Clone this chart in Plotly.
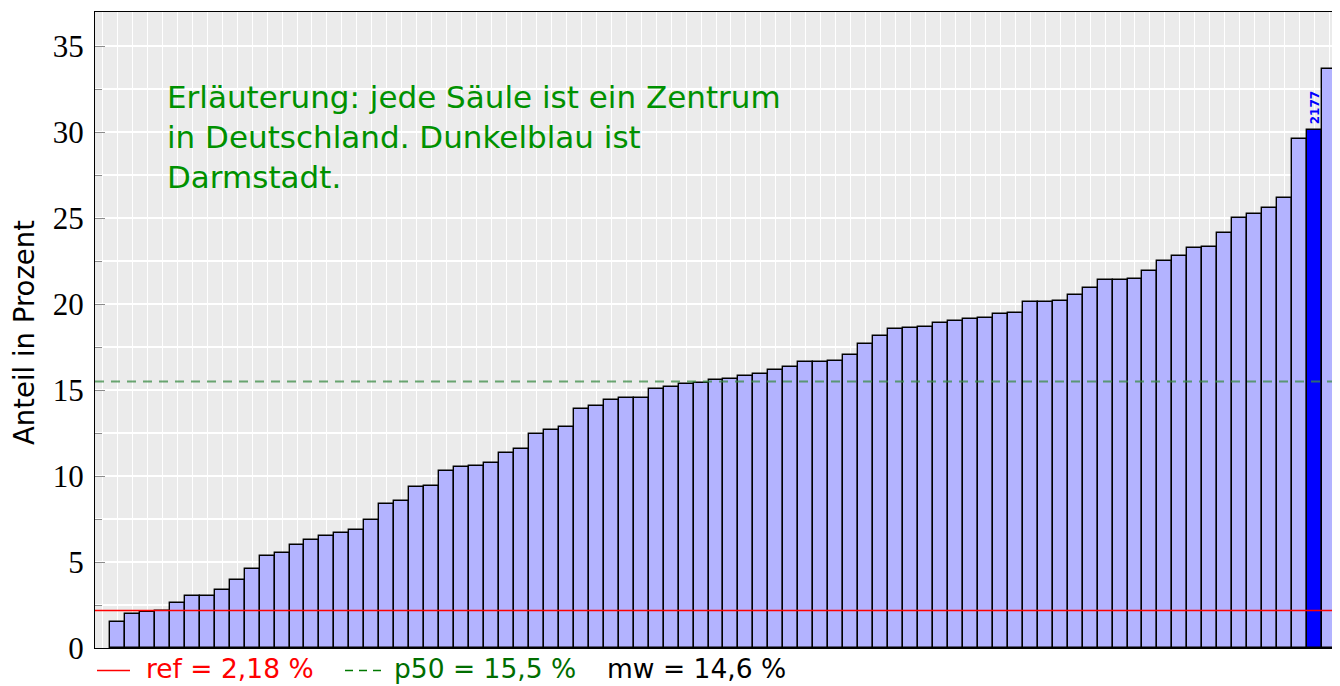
import plotly.graph_objects as go

# ---------------- data ----------------
values = [1.51, 1.98, 2.09, 2.17, 2.62, 3.02, 3.02, 3.37, 3.95, 4.59,
          5.37, 5.54, 5.97, 6.28, 6.53, 6.70, 6.86, 7.44, 8.37, 8.55,
          9.36, 9.42, 10.27, 10.52, 10.58, 10.77, 11.34, 11.57, 12.44, 12.67,
          12.87, 13.93, 14.05, 14.42, 14.55, 14.57, 15.06, 15.17, 15.37, 15.44,
          15.58, 15.64, 15.83, 15.95, 16.16, 16.35, 16.63, 16.63, 16.70, 17.05,
          17.69, 18.16, 18.58, 18.64, 18.70, 18.89, 19.03, 19.16, 19.18, 19.42,
          19.48, 20.13, 20.15, 20.21, 20.52, 20.93, 21.40, 21.43, 21.47, 21.95,
          22.50, 22.81, 23.27, 23.31, 24.15, 25.03, 25.23, 25.62, 26.20, 29.63,
          30.12, 33.66]
positions = list(range(1, len(values) + 1))
highlight_pos = 81
highlight_label = "2177"
ref_value = 2.18
p50_value = 15.5
mw_value = 14.6
y_ticks = [0, 5, 10, 15, 20, 25, 30, 35]
y_title = "Anteil in Prozent"
note_lines = ["Erläuterung: jede Säule ist ein Zentrum",
              "in Deutschland. Dunkelblau ist",
              "Darmstadt."]

# ---------------- layout geometry ----------------
# the page adds an 8px body margin, so the figure is sized to fit the window
OFF = 8
W, H = 1332, 678
ML, MR, MT, MB = 87, 3, 4, 38
PW, PH = W - ML - MR, H - MT - MB


def px2x(px):  # page pixel -> paper x
    return (px - OFF - ML) / PW


def py2y(py):  # page pixel -> paper y
    return (H - MB - (py - OFF)) / PH


def de(v, fmt):
    return format(v, fmt).replace(".", ",")


SANS = "DejaVu Sans"
LIGHT = "rgb(179,179,255)"
DARK = "rgb(0,0,255)"
colors = [DARK if p == highlight_pos else LIGHT for p in positions]

fig = go.Figure()
fig.add_trace(go.Bar(
    x=positions, y=values, width=1.0,
    marker=dict(color=colors, line=dict(color="black", width=1.4)),
    showlegend=False, hoverinfo="x+y",
))

# reference lines (drawn over the bars)
fig.add_hline(y=ref_value, line=dict(color="rgb(255,0,0)", width=1.5), layer="above")
fig.add_hline(y=p50_value, line=dict(color="rgba(60,140,70,0.75)", width=2, dash="9px,7px"),
              layer="above")

# label of highlighted bar
hv = values[positions.index(highlight_pos)]
fig.add_annotation(x=highlight_pos, y=hv, text="<b>" + highlight_label + "</b>",
                   textangle=-90, showarrow=False, yanchor="bottom", xanchor="center",
                   yshift=4, font=dict(family=SANS, size=12, color=DARK))

# explanatory note, one annotation per line for exact line spacing
for i, line in enumerate(note_lines):
    fig.add_annotation(xref="paper", yref="paper", x=px2x(165), y=py2y(96.5 + 40.3 * i),
                       xanchor="left", yanchor="middle", align="left", showarrow=False,
                       text=line, font=dict(family=SANS, size=31, color="rgb(0,145,0)"))

# y axis title
fig.add_annotation(xref="paper", yref="paper", x=px2x(24), y=py2y(333),
                   xanchor="center", yanchor="middle", textangle=-90, showarrow=False,
                   text=y_title, font=dict(family=SANS, size=27.5, color="black"))

# legend below the plot
leg_y = py2y(668)
fig.add_shape(type="line", xref="paper", yref="paper", x0=px2x(97), x1=px2x(130),
              y0=py2y(670.5), y1=py2y(670.5), line=dict(color="rgb(255,0,0)", width=1.6))
fig.add_annotation(xref="paper", yref="paper", x=px2x(144), y=leg_y, xanchor="left",
                   yanchor="middle", showarrow=False,
                   text=f"ref = {de(ref_value, '.2f')} %",
                   font=dict(family=SANS, size=26.5, color="red"))
fig.add_shape(type="line", xref="paper", yref="paper", x0=px2x(345), x1=px2x(382),
              y0=py2y(670.5), y1=py2y(670.5),
              line=dict(color="rgb(0,120,0)", width=1.6, dash="8px,6px"))
fig.add_annotation(xref="paper", yref="paper", x=px2x(392), y=leg_y, xanchor="left",
                   yanchor="middle", showarrow=False,
                   text=f"p50 = {de(p50_value, '.1f')} %",
                   font=dict(family=SANS, size=26.5, color="rgb(0,110,0)"))
fig.add_annotation(xref="paper", yref="paper", x=px2x(605), y=leg_y, xanchor="left",
                   yanchor="middle", showarrow=False,
                   text=f"mw = {de(mw_value, '.1f')} %",
                   font=dict(family=SANS, size=26.5, color="black"))

fig.update_layout(
    width=W, height=H,
    margin=dict(l=ML, r=MR, t=MT, b=MB, autoexpand=False),
    paper_bgcolor="white", plot_bgcolor="rgb(235,235,235)",
    bargap=0, showlegend=False,
    xaxis=dict(range=[-0.5, len(values) + 0.5], dtick=1, tick0=0,
               showticklabels=False, ticks="",
               showgrid=True, gridcolor="white", gridwidth=1,
               showline=True, linecolor="black", linewidth=1.3, mirror=True,
               zeroline=False, fixedrange=True),
    yaxis=dict(range=[0, 37], tickvals=y_ticks, ticktext=[str(t) for t in y_ticks],
               ticks="inside", ticklen=10, tickwidth=1, tickcolor="rgb(140,140,140)",
               showgrid=True, gridcolor="white", gridwidth=1.5,
               minor=dict(dtick=2.5, tick0=0, ticks="inside", ticklen=7, tickwidth=1,
                          tickcolor="rgb(140,140,140)", showgrid=True,
                          gridcolor="white", gridwidth=1.5),
               tickfont=dict(family="Liberation Serif", size=31, color="black"),
               ticklabelstandoff=4,
               showline=True, linecolor="black", linewidth=1.3, mirror=True,
               zeroline=False, fixedrange=True),
)

fig.write_html("out.html")
